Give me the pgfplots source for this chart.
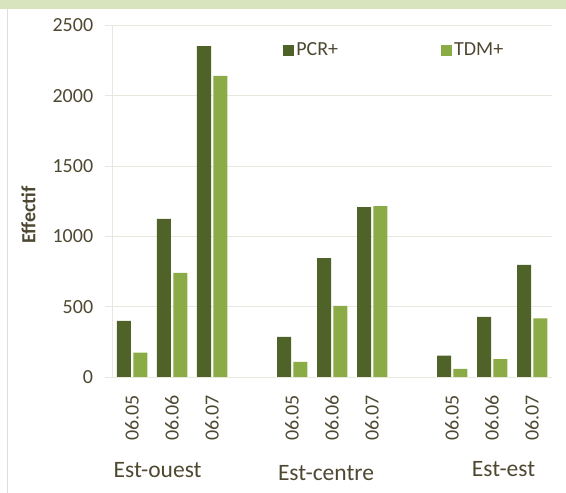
\documentclass[border=0pt]{standalone}
\usepackage{fontspec}
\setmainfont{Carlito}
\usepackage{pgfplots}
\pgfplotsset{compat=1.18}
\definecolor{pcr}{RGB}{79,98,40}
\definecolor{tdm}{RGB}{139,171,71}
\definecolor{band}{RGB}{215,228,189}
\definecolor{gridc}{RGB}{234,232,220}
\definecolor{txt}{RGB}{78,72,50}
\definecolor{leftline}{RGB}{222,222,222}
\begin{document}
\fontsize{20}{24}\selectfont
\begin{tikzpicture}[x=1pt,y=1pt]
\path[use as bounding box] (0,0) rectangle (566,493);
\fill[band] (0,483.5) rectangle (566,493);
\draw[leftline, line width=1pt] (7,0) -- (7,483.5);
\begin{axis}[
  at={(112pt,116pt)}, anchor=south west,
  scale only axis, width=440pt, height=351.5pt,
  xmin=-0.5, xmax=10.5, ymin=0, ymax=2500,
  clip=false,
  xtick={0,1,2,4,5,6,8,9,10},
  xticklabels={06.05,06.06,06.07,06.05,06.06,06.07,06.05,06.06,06.07},
  ytick={0,500,1000,1500,2000,2500},
  /pgf/number format/assume math mode=true,
  /pgf/number format/1000 sep={},
  ymajorgrids, grid style={gridc, line width=0.8pt},
  axis x line*=bottom, axis y line*=left,
  axis line style={gridc, line width=0.8pt},
  xtick style={draw=none},
  ytick style={gridc, line width=0.8pt},
  tick align=outside, major tick length=7pt,
  yticklabel style={text=txt, xshift=-5pt},
  xticklabel style={text=txt, yshift=-4pt, rotate=90, anchor=east},
  ylabel={\bfseries Effectif},
  ylabel style={text=txt, at={(axis description cs:-0.19,0.461)}, anchor=center},
  legend style={at={(axis description cs:0.389,0.93)}, anchor=west, draw=none, fill=none,
    inner sep=0pt, text=txt, nodes={inner sep=2pt},
    /tikz/every even column/.append style={column sep=101pt}},
  legend columns=2,
]
\addplot[ybar, fill=pcr, draw=none, bar width=0.35, bar shift=-0.2,
  legend image code/.code={\fill[pcr] (0pt,-5.5pt) rectangle (11pt,5.5pt);}]
  coordinates {(0,400) (1,1124) (2,2354) (4,285) (5,846) (6,1209) (8,152) (9,427) (10,797)};
\addlegendentry{PCR+}
\addplot[ybar, fill=tdm, draw=none, bar width=0.35, bar shift=0.21,
  legend image code/.code={\fill[tdm] (0pt,-5.5pt) rectangle (11pt,5.5pt);}]
  coordinates {(0,173) (1,740) (2,2141) (4,107) (5,505) (6,1216) (8,57) (9,128) (10,417)};
\addlegendentry{TDM+}
\node[anchor=base, text=txt, font=\fontsize{23.5}{28}\selectfont] at (axis cs:0.64,-718) {Est-ouest};
\node[anchor=base, text=txt, font=\fontsize{23.5}{28}\selectfont] at (axis cs:4.85,-733) {Est-centre};
\node[anchor=base, text=txt, font=\fontsize{23.5}{28}\selectfont] at (axis cs:9.29,-711) {Est-est};
\end{axis}
\end{tikzpicture}
\end{document}
